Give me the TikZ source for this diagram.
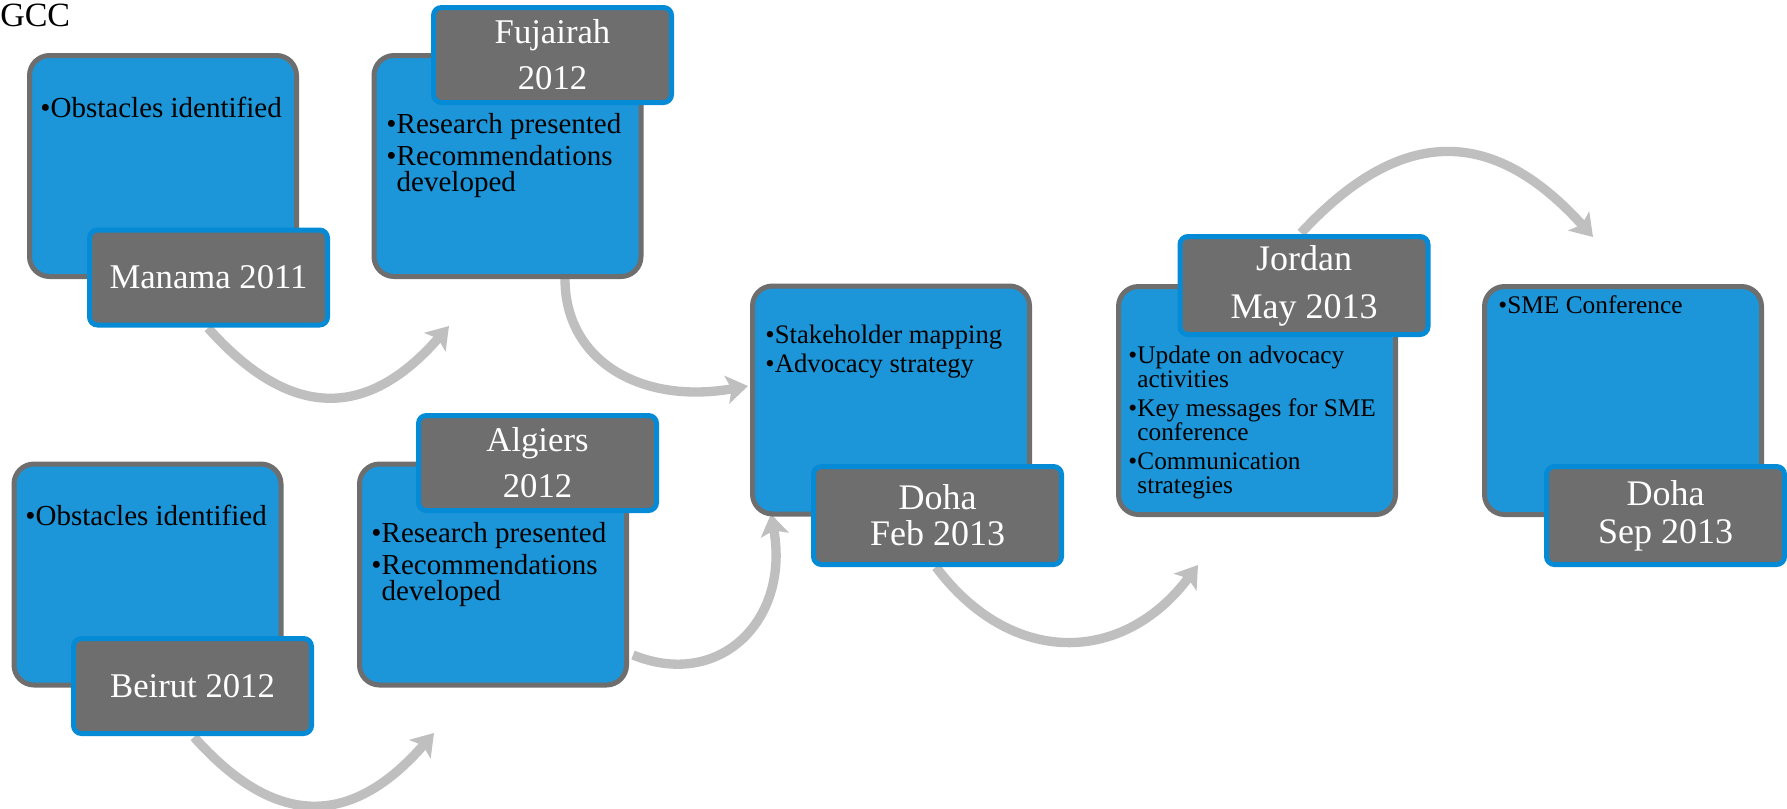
\documentclass[tikz,border=0pt]{standalone}
\usepackage{fontspec}
\setmainfont{Liberation Serif}
\usetikzlibrary{arrows.meta}
\definecolor{boxblue}{RGB}{28,150,217}
\definecolor{boxgray}{RGB}{110,110,110}
\definecolor{lblblue}{RGB}{5,138,214}
\definecolor{arrowgray}{RGB}{191,191,191}
\newcommand\myitem[1]{\hbox{\makebox[0.36em][l]{\textbullet}#1}}
\newcommand\mycont[1]{\hbox{\hspace{0.36em}#1}}
\begin{document}
\begin{tikzpicture}[x=0.75pt,y=-0.75pt,
  bigbox/.style={rectangle, rounded corners=15pt, fill=boxblue, draw=boxgray, line width=3.75pt, inner sep=0pt},
  leftbig/.style={bigbox, minimum width=200.25pt, minimum height=165.75pt},
  rightbig/.style={bigbox, minimum width=207.75pt, minimum height=171pt},
  lbl/.style={rectangle, rounded corners=6pt, fill=boxgray, draw=lblblue, line width=3.75pt, inner sep=0pt, text=white, align=center},
  leftlbl/.style={lbl, minimum width=178.5pt, minimum height=71.25pt, font=\fontsize{26}{34.5}\selectfont},
  rightlbl/.style={lbl, minimum width=186pt, minimum height=73.5pt},
  bul/.style={anchor=base west, inner sep=0pt, text=black},
  flow/.style={draw=arrowgray, line width=7pt, -{Stealth[length=16pt,width=21pt,inset=3.5pt]}}
]
\useasboundingbox (0,0) rectangle (1787,808);

% arrow end points
\coordinate (a1s) at (208,328);  \coordinate (a1e) at (449,326);
\coordinate (a2s) at (565,279);  \coordinate (a2e) at (748,386);
\coordinate (a3s) at (194,737);  \coordinate (a3e) at (434,733);
\coordinate (a4s) at (633,655);  \coordinate (a4e) at (771,514);
\coordinate (a5s) at (936,567);  \coordinate (a5e) at (1198,565);
\coordinate (a6s) at (1301,233); \coordinate (a6e) at (1593,237);

\draw[flow] (a1s) .. controls (290,420) and (367,420) .. (a1e);
\draw[flow] (a2s) .. controls (565,360) and (640,405) .. (a2e);
\draw[flow] (a3s) .. controls (276,829) and (352,827) .. (a3e);
\draw[flow] (a4s) .. controls (720,690) and (790,620) .. (a4e);
\draw[flow] (a5s) .. controls (1011,667) and (1123,665) .. (a5e);
\draw[flow] (a6s) .. controls (1401,125) and (1493,126) .. (a6e);

% title
\node[anchor=base west, inner sep=0pt, font=\fontsize{25.5}{30}\selectfont] (gcc) at (0,26) {GCC};

% big boxes
\node[leftbig] (b1) at (163,166) {};
\node[leftbig] (b2) at (507.5,166) {};
\node[leftbig] (b3) at (147.5,574.5) {};
\node[leftbig] (b4) at (493,574.5) {};
\node[rightbig] (b5) at (891,400) {};
\node[rightbig] (b6) at (1257,400.5) {};
\node[rightbig] (b7) at (1623,400.5) {};

% labels
\node[leftlbl] (L1) at (208.5,277.5) {Manama 2011};
\node[leftlbl] (L2) at (552.5,55) {Fujairah\\2012};
\node[leftlbl] (L3) at (192.5,686) {Beirut 2012};
\node[leftlbl] (L4) at (537.5,463) {Algiers\\2012};
\node[rightlbl, font=\fontsize{27}{27}\selectfont] (L5) at (937.5,515.5) {Doha\\Feb 2013};
\node[rightlbl, font=\fontsize{27}{36}\selectfont] (L6) at (1304,285.5) {Jordan\\May 2013};
\node[rightlbl, minimum width=178.5pt, font=\fontsize{27}{28.5}\selectfont] (L7) at (1665.5,515.5) {Doha\\Sep 2013};

% bullet texts
\node[bul, font=\fontsize{21.75}{19.5}\selectfont] (t1) at (40,117)
  {\vtop{\baselineskip=19.5pt\lineskiplimit=-\maxdimen\lineskip=0pt
   \myitem{Obstacles identified}}};
\node[bul, font=\fontsize{21.75}{19.5}\selectfont] (t2) at (386,133)
  {\vtop{\baselineskip=19.5pt\lineskiplimit=-\maxdimen\lineskip=0pt
   \myitem{Research presented}\vskip4.5pt
   \myitem{Recommendations}\mycont{developed}}};
\node[bul, font=\fontsize{21.75}{19.5}\selectfont] (t3) at (25,525)
  {\vtop{\baselineskip=19.5pt\lineskiplimit=-\maxdimen\lineskip=0pt
   \myitem{Obstacles identified}}};
\node[bul, font=\fontsize{21.75}{19.5}\selectfont] (t4) at (371,542)
  {\vtop{\baselineskip=19.5pt\lineskiplimit=-\maxdimen\lineskip=0pt
   \myitem{Research presented}\vskip4.5pt
   \myitem{Recommendations}\mycont{developed}}};
\node[bul, font=\fontsize{20}{21.75}\selectfont] (t5) at (765,343)
  {\vtop{\baselineskip=21.75pt\lineskiplimit=-\maxdimen\lineskip=0pt
   \myitem{Stakeholder mapping}
   \myitem{Advocacy strategy}}};
\node[bul, font=\fontsize{19}{18}\selectfont] (t6) at (1128,363)
  {\vtop{\baselineskip=18pt\lineskiplimit=-\maxdimen\lineskip=0pt
   \myitem{Update on advocacy}\mycont{activities}\vskip3.75pt
   \myitem{Key messages for SME}\mycont{conference}\vskip3.75pt
   \myitem{Communication}\mycont{strategies}}};
\node[bul, font=\fontsize{19}{18}\selectfont] (t7) at (1498,313)
  {\vtop{\baselineskip=18pt\lineskiplimit=-\maxdimen\lineskip=0pt
   \myitem{SME Conference}}};
\end{tikzpicture}
\end{document}
